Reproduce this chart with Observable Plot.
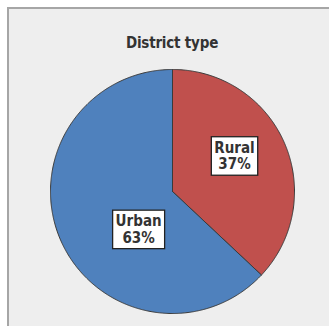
<!DOCTYPE html>
<html><head><meta charset="utf-8">
<script src="https://cdn.jsdelivr.net/npm/d3@7"></script>
<script src="https://cdn.jsdelivr.net/npm/@observablehq/plot@0.6"></script>
<style>
html,body{margin:0;padding:0;background:#fff;}
#panel{position:absolute;left:7px;top:7px;width:322px;height:319px;box-sizing:border-box;border-left:2px solid #a6a6a6;border-top:2px solid #a6a6a6;background:#eeeeee;overflow:hidden;}
#title{position:absolute;left:0;top:26px;width:326px;text-align:center;font:bold 15px "DejaVu Sans Condensed","DejaVu Sans";color:#333;line-height:16px;letter-spacing:-0.2px;}
#chart{position:absolute;left:0;top:58px;}
</style></head><body>
<div id="panel"><div id="title"></div><div id="chart"></div></div>
<script>
const title = "District type";
const categories = ["Rural", "Urban"];
const percents = [37, 63];

document.getElementById("title").textContent = title;

// layout (code, not data)
const W = 320, H = 257, cx = 163, cy = 124, R = 122;
const labelPlacement = {Rural: {r: 0.587, deg: 60}, Urban: {r: 0.415, deg: 222}};

const pie = d3.pie().sort(null).value(d => d.pct)(categories.map((c, i) => ({cat: c, pct: percents[i]})));
const pts = [];
for (const a of pie) {
  const cat = a.data.cat;
  pts.push({cat, x: 0, y: 0});
  const n = Math.max(2, Math.ceil((a.endAngle - a.startAngle) / (Math.PI / 360)));
  for (let k = 0; k <= n; k++) {
    const t = a.startAngle + (a.endAngle - a.startAngle) * k / n;
    pts.push({cat, x: Math.sin(t), y: Math.cos(t)});
  }
  pts.push({cat, x: 0, y: 0});
}
const labels = pie.map(a => {
  const p = labelPlacement[a.data.cat];
  const t = p.deg * Math.PI / 180;
  return {cat: a.data.cat, pct: a.data.pct, x: p.r * Math.sin(t), y: p.r * Math.cos(t)};
});

const chart = Plot.plot({
  width: W, height: H,
  margin: 0,
  style: {background: "transparent", overflow: "visible"},
  x: {domain: [-1, 1], range: [cx - R, cx + R], axis: null},
  y: {domain: [-1, 1], range: [cy + R, cy - R], axis: null},
  color: {domain: categories, range: ["#c0504d", "#4f81bd"]},
  marks: [
    Plot.line(pts, {x: "x", y: "y", z: "cat", fill: "cat", stroke: "#3a3a3a", strokeWidth: 1, curve: "linear"}),
    Plot.text(labels, {
      x: "x", y: "y",
      text: d => `${d.cat}\n${d.pct}%`,
      fontSize: 15, fontWeight: "bold", fontFamily: "DejaVu Sans Condensed, DejaVu Sans",
      fill: "#333", lineHeight: 1.1
    })
  ]
});
document.getElementById("chart").appendChild(chart);

// white label boxes behind the text
chart.querySelectorAll('g[aria-label="text"] text').forEach(t => {
  const b = t.getBBox();
  const r = document.createElementNS("http://www.w3.org/2000/svg", "rect");
  r.setAttribute("x", b.x - 3);
  r.setAttribute("y", b.y - 2);
  r.setAttribute("width", b.width + 6);
  r.setAttribute("height", b.height + 4);
  r.setAttribute("fill", "#fff");
  r.setAttribute("stroke", "#222");
  r.setAttribute("stroke-width", 1.3);
  const tr = t.getAttribute("transform");
  if (tr) r.setAttribute("transform", tr);
  t.parentNode.insertBefore(r, t);
});
</script>
</body></html>
